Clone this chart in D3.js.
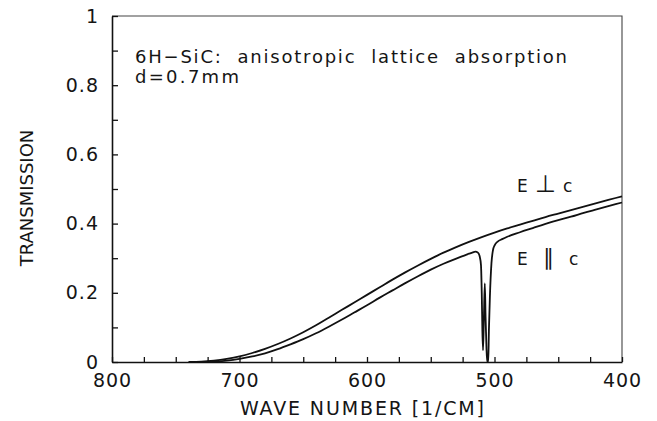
<!DOCTYPE html>
<html>
<head>
<meta charset="utf-8">
<script src="https://cdn.jsdelivr.net/npm/d3@7/dist/d3.min.js"></script>
<style>
  body { margin: 0; background: #fff; }
  text { font-family: "DejaVu Sans", sans-serif; fill: #151515; }
</style>
</head>
<body>
<div id="chart"></div>
<script>
// E perpendicular c
const perpWn = [740, 730, 720, 710, 700, 690, 680, 670, 660, 650, 640, 630, 620, 610, 600, 590, 580, 570, 560, 550,
  540, 530, 520, 510, 500, 490, 480, 470, 460, 450, 440, 430, 420, 410, 400];
const perpT  = [0, 0.001, 0.004, 0.009, 0.016, 0.026, 0.038, 0.052, 0.068, 0.086, 0.106, 0.128, 0.150, 0.172, 0.194, 0.216, 0.238, 0.259, 0.279, 0.298,
  0.316, 0.332, 0.347, 0.361, 0.374, 0.386, 0.397, 0.408, 0.419, 0.429, 0.439, 0.449, 0.459, 0.469, 0.479];

// E parallel c (phonon absorption dip near 505 1/cm)
const parWn = [735, 720, 710, 700, 690, 680, 670, 660, 650, 640, 630, 620, 610, 600, 590, 580, 570, 560, 550, 540, 530, 525, 520, 517, 515, 513,
  511.6, 510.6, 510.0, 509.5, 509.0, 508.3, 507.6, 507.0, 506.3, 505.7, 504.9, 504.4, 503.6, 502.4, 501.2, 499.8, 497.5, 494, 490,
  480, 470, 460, 450, 440, 430, 420, 410, 400];
const parT  = [0, 0.001, 0.004, 0.009, 0.016, 0.025, 0.037, 0.051, 0.066, 0.083, 0.102, 0.122, 0.143, 0.164, 0.186, 0.207, 0.228, 0.248, 0.267, 0.284, 0.299, 0.306, 0.313, 0.317, 0.319, 0.316,
  0.305, 0.28, 0.20, 0.09, 0.034, 0.13, 0.227, 0.13, 0.04, 0, 0, 0.09, 0.19, 0.285, 0.323, 0.338, 0.348, 0.355, 0.362,
  0.375, 0.387, 0.399, 0.410, 0.420, 0.431, 0.441, 0.451, 0.461];

const xTicks = [800, 700, 600, 500, 400];
const yTicks = [0, 0.2, 0.4, 0.6, 0.8, 1];

const width = 657, height = 421;
const margin = { top: 16, right: 35, bottom: 59, left: 112 };

const svg = d3.select('#chart').append('svg')
  .attr('width', width)
  .attr('height', height);

const x = d3.scaleLinear().domain([800, 400]).range([margin.left, width - margin.right]);
const y = d3.scaleLinear().domain([0, 1]).range([height - margin.bottom, margin.top]);

// frame (top + right)
svg.append('path')
  .attr('d', `M${x(800)},${y(1)}H${x(400)}V${y(0)}`)
  .attr('fill', 'none')
  .attr('stroke', '#444')
  .attr('stroke-width', 1.1);

// X axis
const xAxis = d3.axisBottom(x)
  .tickValues(d3.range(400, 801, 25))
  .tickSizeInner(-5)
  .tickSizeOuter(0)
  .tickPadding(12)
  .tickFormat(d => xTicks.includes(d) ? d : '');

svg.append('g')
  .attr('transform', `translate(0,${y(0)})`)
  .call(xAxis)
  .call(g => g.selectAll('text').style('font-size', '19px').style('letter-spacing', '1px').attr('fill', '#151515'))
  .call(g => g.selectAll('line').attr('stroke', '#111').attr('stroke-width', 1.3))
  .call(g => g.select('.domain').attr('stroke', '#111').attr('stroke-width', 1.6));

// Y axis
const yAxis = d3.axisLeft(y)
  .tickValues(d3.range(0, 11).map(i => i / 10))
  .tickSizeInner(-6)
  .tickSizeOuter(0)
  .tickPadding(13)
  .tickFormat(d => yTicks.some(t => Math.abs(t - d) < 1e-9) ? String(+d.toFixed(1)) : '');

svg.append('g')
  .attr('transform', `translate(${x(800)},0)`)
  .call(yAxis)
  .call(g => g.selectAll('text').style('font-size', '19px').style('letter-spacing', '1px').attr('fill', '#151515'))
  .call(g => g.selectAll('line').attr('stroke', '#111').attr('stroke-width', 1.3))
  .call(g => g.select('.domain').attr('stroke', '#111').attr('stroke-width', 1.6));

// axis titles
svg.append('text')
  .attr('x', 362)
  .attr('y', 415)
  .attr('text-anchor', 'middle')
  .attr('textLength', 244)
  .attr('lengthAdjust', 'spacing')
  .style('font-size', '19px')
  .text('WAVE NUMBER [1/CM]');

svg.append('text')
  .attr('transform', 'translate(33,198) rotate(-90)')
  .attr('text-anchor', 'middle')
  .style('font-size', '18px')
  .text('TRANSMISSION');

// curves
const line = d3.line()
  .x(d => x(d[0]))
  .y(d => y(d[1]))
  .curve(d3.curveMonotoneX);

const series = [
  d3.zip(perpWn, perpT),
  d3.zip(parWn, parT)
];

svg.selectAll('.curve')
  .data(series)
  .enter()
  .append('path')
  .attr('class', 'curve')
  .attr('d', line)
  .attr('fill', 'none')
  .attr('stroke', '#111')
  .attr('stroke-width', 1.8);

// annotations
svg.append('text')
  .attr('x', 135)
  .attr('y', 63)
  .attr('textLength', 432)
  .attr('lengthAdjust', 'spacing')
  .style('font-size', '18px')
  .style('white-space', 'pre')
  .text('6H\u2212SiC:  anisotropic  lattice  absorption');

svg.append('text')
  .attr('x', 135)
  .attr('y', 83)
  .attr('textLength', 104)
  .attr('lengthAdjust', 'spacing')
  .style('font-size', '18px')
  .text('d=0.7mm');

const perpLabel = svg.append('text')
  .attr('x', 517)
  .attr('y', 192)
  .style('font-size', '17px');
perpLabel.append('tspan').text('E');
perpLabel.append('tspan').attr('x', 535).style('font-size', '24px').text('\u22A5');
perpLabel.append('tspan').attr('x', 563).text('c');

const parLabel = svg.append('text')
  .attr('x', 517)
  .attr('y', 265)
  .style('font-size', '17px');
parLabel.append('tspan').text('E');
parLabel.append('tspan').attr('x', 543).style('font-size', '22px').text('\u2225');
parLabel.append('tspan').attr('x', 569).text('c');
</script>
</body>
</html>
